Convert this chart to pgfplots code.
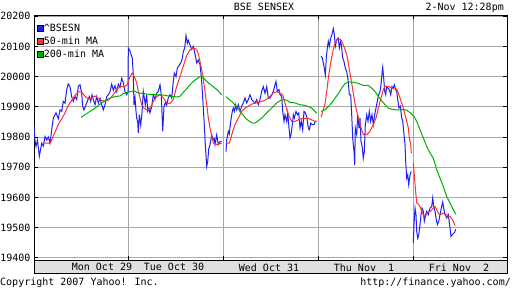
\documentclass[border=0pt]{standalone}
\usepackage{pgfplots}
\pgfplotsset{compat=1.18}
\usepackage{fontspec}
\setmainfont{DejaVu Sans Mono}
\definecolor{cblue}{HTML}{2020F0}
\definecolor{cred}{HTML}{FF3030}
\definecolor{cgreen}{HTML}{00B000}
\definecolor{cgrid}{HTML}{A8A8A8}
\definecolor{cband}{HTML}{E0E0E0}
\newcommand{\yf}{\fontsize{10bp}{12bp}\selectfont}
\begin{document}
\begin{tikzpicture}[x=1bp,y=1bp]
\useasboundingbox (0,0) rectangle (512,288);
\filldraw[fill=cband, draw=black, line width=1bp] (34,15) rectangle (507,28);
\begin{axis}[
  at={(34bp,28bp)}, anchor=south west,
  scale only axis, width=473bp, height=245bp,
  xmin=34, xmax=507, ymin=19393, ymax=20204,
  axis line style={line width=1bp},
  xtick={128.3,223.3,318.3,413.3}, xticklabels={},
  extra x ticks={102,174,269,364,459},
  extra x tick labels={Mon Oct 29,Tue Oct 30,Wed Oct 31,Thu Nov\ \ 1,Fri Nov\ \ 2},
  extra x tick style={grid=none, major tick length=0pt},
  ytick={19400,19500,...,20200},
  scaled y ticks=false,
  yticklabel={\pgfmathprintnumber[fixed,precision=0,set thousands separator={}]{\tick}},
  grid=major, major grid style={cgrid, line width=1bp},
  tick style={black, line width=1bp}, major tick length=4bp,
  tick label style={font=\yf},
  /pgf/number format/set thousands separator={},
  /pgf/number format/assume math mode=true,
  unbounded coords=jump,
  legend cell align=left,
  legend style={at={(0,1)}, anchor=north west, draw=none, fill=none,
    inner xsep=3bp, inner ysep=9bp, row sep=4bp,
    nodes={inner sep=0pt, font=\yf, text height=7bp, text depth=2bp}},
  legend image code/.code={\filldraw[#1, draw=black, line width=0.7bp] (0bp,-3bp) rectangle (6bp,3bp);},
  /tikz/every even column/.append style={column sep=3bp},
  every axis plot/.append style={line width=1bp, mark=none},
]
\addplot[color=cblue] coordinates {
(34,19835)(35,19790)(36,19769)(37.5,19790)(39.3,19736)(41.7,19780)(43.3,19770)(45,19802)(46.7,19790)(48.3,19800)(50,19780)
(51.7,19824)(53.3,19863)(56,19880)(58.3,19860)(60,19890)(61.7,19885)(63.3,19918)(65,19912)(66.7,19957)(68.3,19976)(70,19967)
(71.7,19934)(73.3,19918)(75,19934)(76.7,19924)(78.3,19968)(80,19973)(81.7,19945)(82.7,19901)(84,19890)(86,19907)(87.3,19918)
(89.3,19934)(90.7,19918)(92,19940)(93.3,19924)(95,19907)(96.7,19934)(98.3,19912)(100,19929)(101.7,19907)(103.3,19890)(105,19907)
(106.7,19934)(108.3,19940)(110,19950)(111.7,19975)(113.3,19955)(115,19970)(116.7,19950)(118.3,19975)(120,19965)(121.7,19995)
(123.3,19980)(125,19950)(126.7,19940)(128,19950)
(128.3,20095)(130,20085)(131,20073)(132.3,20062)(133.3,20006)(134,19907)(135,19930)(136,19885)(136.7,19863)(137.7,19850)(138.3,19813)
(139.3,19874)(140.7,19840)(142,19880)(143.3,19951)(144.3,19930)(145.3,19907)(146.7,19940)(147.7,19885)(149,19895)(150,19880)
(151.7,19900)(153.3,19940)(155,19925)(156.7,19945)(158.3,19951)(160,19973)(161.3,19940)(162.7,19819)(164,19900)(165.3,19915)
(166.7,19905)(168.3,19930)(170,19940)(171.7,19929)(173.3,19984)(174.3,20012)(176,20000)(177.3,20028)(178.7,20035)(180.7,20045)
(182.3,20060)(183.3,20083)(184.7,20095)(186,20136)(187.3,20110)(188.3,20120)(190,20105)(191.7,20090)(193.3,20100)(195,20075)
(196.7,20045)(198.3,20055)(200,20040)(201.7,19984)(203.3,19897)(204.3,19840)(205.3,19775)(206.7,19703)(207.7,19719)(208.7,19760)
(210,19775)(211.7,19807)(213,19790)(214.3,19795)(215,19775)(216.7,19807)(218.3,19775)(220,19785)(221.7,19785)
(223,nan)
(226,19752)(226.7,19790)(228.3,19819)(229.3,19810)(230.7,19852)(232.3,19885)(233.3,19896)(234.3,19885)(235.7,19907)(236.7,19890)
(238.3,19907)(240,19885)(241.7,19902)(243.3,19913)(245,19929)(246.7,19913)(248.3,19924)(250,19940)(251.7,19924)(253.3,19918)
(255,19913)(256.7,19924)(258.3,19907)(260,19924)(261.7,19951)(263.3,19967)(265,19945)(266.7,19967)(268.3,19929)(270,19929)
(271.7,19940)(273.3,19951)(275,19973)(276,19984)(277.3,19951)(279,19957)(280,19940)(281.7,19935)(282.7,19885)(284,19852)
(285,19874)(286.7,19852)(287.7,19880)(289,19830)(290,19797)(291,19808)(292.3,19841)(293.3,19874)(294.3,19863)(296,19885)
(297.3,19874)(298.7,19880)(300,19830)(301.3,19852)(302.7,19824)(304,19885)(305.3,19880)(306.7,19868)(308.3,19830)(309.3,19824)
(310.7,19846)(312.3,19841)(314,19841)(315.3,19852)(316.7,19852)
(318,nan)
(321,20067)(322.3,20062)(323.3,20045)(324.3,20028)(325.3,20006)(326.3,20062)(327.3,20095)(328.3,20117)(329.3,20100)(330.7,20128)
(332,20140)(333.3,20159)(334.3,20140)(335.3,20100)(336.7,20122)(338.3,20128)(339.3,20095)(340.7,20117)(341.7,20095)(342.7,20062)
(344,20050)(345.3,20028)(346.7,20017)(348.3,19984)(349.3,19940)(350.7,19940)(351.7,19874)(352.7,19797)(354,19752)(354.7,19708)
(355.3,19830)(356.7,19808)(357.7,19874)(359,19830)(360,19863)(361,19786)(362.3,19765)(363.3,19730)(364.3,19752)(365.3,19841)
(366.7,19874)(368,19852)(369.3,19885)(370.7,19852)(372,19874)(373.3,19841)(374.7,19874)(376,19896)(377.3,19918)(378.7,19940)
(380,19951)(381,19973)(382,20012)(382.7,20031)(383.7,19995)(384.7,19951)(385.7,19940)(386.7,19967)(388,19962)(389.3,19957)
(390.7,19940)(392,19967)(393.3,19962)(394.3,19973)(395.7,19957)(396.7,19951)(397.7,19924)(399,19896)(400.3,19902)(401.7,19863)
(402.7,19852)(404,19808)(405,19775)(405.7,19719)(406.7,19664)(407.7,19675)(408.7,19642)(410,19675)(411.3,19686)
(412.5,nan)
(413.3,19449)(414,19510)(415,19565)(416,19543)(416.7,19487)(417.7,19465)(418.7,19476)(420,19510)(421,19543)(422,19565)
(423.3,19554)(424.3,19521)(425.7,19543)(426.7,19554)(428.3,19543)(430,19565)(431.7,19570)(432.7,19598)(433.7,19570)(435,19554)
(436,19532)(437.3,19510)(438.7,19521)(440,19543)(441.3,19565)(442.7,19585)(443.7,19565)(445,19543)(446.7,19532)(448.3,19543)
(450,19499)(451,19471)(452,19476)(453.3,19480)(454.7,19485)(455.7,19495)
};
\addlegendentry{\textasciicircum BSESN}
\addplot[color=cred] coordinates {
(43.3,19780)(50,19780)(51.7,19790)(53.3,19805)(56,19824)(58.3,19841)(61.7,19860)(65,19880)(68.3,19905)(71.7,19922)(75,19938)
(78.3,19950)(81.7,19948)(85,19935)(88.3,19926)(91.7,19930)(95,19936)(98.3,19928)(101.7,19922)(105,19918)(108.3,19922)(111.7,19934)
(113.3,19940)(116.7,19957)(120,19967)(125,19967)(127.3,19975)(130,20000)(132.3,20012)(135,19995)(136.7,19979)(138.3,19951)
(140,19930)(141.7,19907)(144,19896)(146.7,19890)(150,19892)(153.3,19918)(156.7,19934)(160,19940)(163.3,19930)(166.7,19913)
(170,19911)(173.3,19924)(176.7,19968)(180,20000)(183.3,20035)(186.7,20070)(190,20089)(193.3,20095)(196.7,20090)(198.3,20075)
(200,20050)(202.7,20006)(205,19950)(206.7,19907)(208.3,19863)(210,19830)(211.7,19805)(213.3,19780)(216.7,19775)(220,19778)(221.7,19780)
(223,nan)
(226,19780)(229.3,19780)(230.7,19795)(232.7,19819)(235,19841)(238.3,19863)(241.7,19885)(245,19896)(248.3,19902)(251.7,19909)
(255,19912)(258.3,19915)(261.7,19918)(265,19922)(268.3,19929)(271.7,19940)(273.3,19946)(276.7,19950)(280,19946)(282.7,19940)
(285,19913)(287.3,19885)(289.3,19868)(291.7,19852)(295,19852)(298.3,19857)(301.7,19862)(305,19862)(308.3,19862)(311.7,19857)
(315,19852)(316.7,19852)
(318,nan)
(321,19866)(323.3,19890)(325,19910)(326.7,19950)(328.3,19995)(330,20032)(331.7,20065)(333.3,20090)(335,20111)(336.7,20120)
(338.3,20125)(340.7,20122)(342.7,20110)(345,20090)(346.7,20073)(348.3,20045)(350,20010)(351.7,19978)(353.3,19945)(355,19910)
(356.7,19885)(358.3,19863)(360,19841)(361.7,19824)(363.3,19808)(366.7,19808)(370,19819)(373.3,19841)(376,19863)(378.3,19896)
(381,19929)(383.3,19957)(385,19968)(388.3,19968)(391.7,19962)(395,19962)(396.7,19957)(398.3,19946)(400,19929)(401.7,19913)
(403.3,19896)(405,19874)(406.7,19852)(408.3,19830)(409.3,19797)(410.7,19775)(411.3,19747)
(412.5,nan)
(413.3,19714)(414.3,19675)(415.3,19631)(416.7,19582)(418.3,19578)(420,19570)(421.7,19554)(423.3,19543)(425,19540)(426.7,19543)
(428.3,19554)(430,19554)(431.7,19558)(433.3,19565)(435,19570)(436.7,19560)(438.3,19548)(440,19543)(441.7,19545)(443.3,19548)
(446.7,19543)(448.3,19537)(450,19537)(451.7,19530)(453.3,19521)(455,19507)
};
\addlegendentry{50-min MA}
\addplot[color=cgreen] coordinates {
(81,19865)(85,19874)(90,19885)(95,19896)(100,19909)(105,19920)(110,19929)(115,19934)(120,19936)(123.3,19944)(126.7,19947)
(130,19950)(133.3,19953)(135,19951)(138.3,19946)(143.3,19944)(150,19941)(156.7,19940)(163.3,19939)(168.3,19936)(173.3,19934)
(177.3,19933)(180,19935)(183.3,19948)(186.7,19960)(190,19973)(193.3,19984)(196.7,19993)(200,20000)(202.7,20000)(205,19990)
(208.3,19979)(211.7,19971)(215,19962)(218.3,19953)(221.7,19939)
(223,nan)
(226,19934)(229.3,19924)(232.7,19915)(236,19901)(239.3,19890)(242.7,19874)(246,19861)(249.3,19852)(252.7,19846)(255,19846)
(258.3,19854)(261.7,19863)(265,19874)(268.3,19885)(271.7,19896)(273.3,19901)(276.7,19913)(280,19920)(283.3,19924)(286.7,19922)
(290,19915)(295,19913)(300,19907)(305,19905)(308.3,19901)(311.7,19896)(315,19885)(316.7,19879)
(318,nan)
(321,19885)(325,19890)(328.3,19901)(331.7,19913)(335,19929)(338.3,19943)(341.7,19962)(345,19977)(348.3,19982)(351.7,19982)
(355,19980)(358.3,19978)(363.3,19971)(368.3,19971)(371.7,19962)(375,19951)(378.3,19934)(381.7,19920)(385,19907)(388.3,19896)
(391.7,19892)(396.7,19890)(400,19890)(403.3,19891)(406,19890)(408.3,19885)(411.7,19876)(414,19868)(416.7,19852)(420,19824)
(423.3,19797)(426.7,19769)(430,19747)(433.3,19730)(436.7,19692)(440,19664)(443.3,19636)(446.7,19603)(450,19582)(453.3,19559)(455.7,19545)
};
\addlegendentry{200-min MA}
\end{axis}
\node[font=\yf, anchor=base] at (264,278) {BSE SENSEX};
\node[font=\yf, anchor=base east, inner sep=0pt] at (504,278) {2-Nov 12:28pm};
\node[font=\yf, anchor=base west, inner sep=0pt] at (0,2.5) {Copyright 2007 Yahoo! Inc.};
\node[font=\yf, anchor=base east, inner sep=0pt] at (511,2.5) {http://finance.yahoo.com/};
\end{tikzpicture}
\end{document}
